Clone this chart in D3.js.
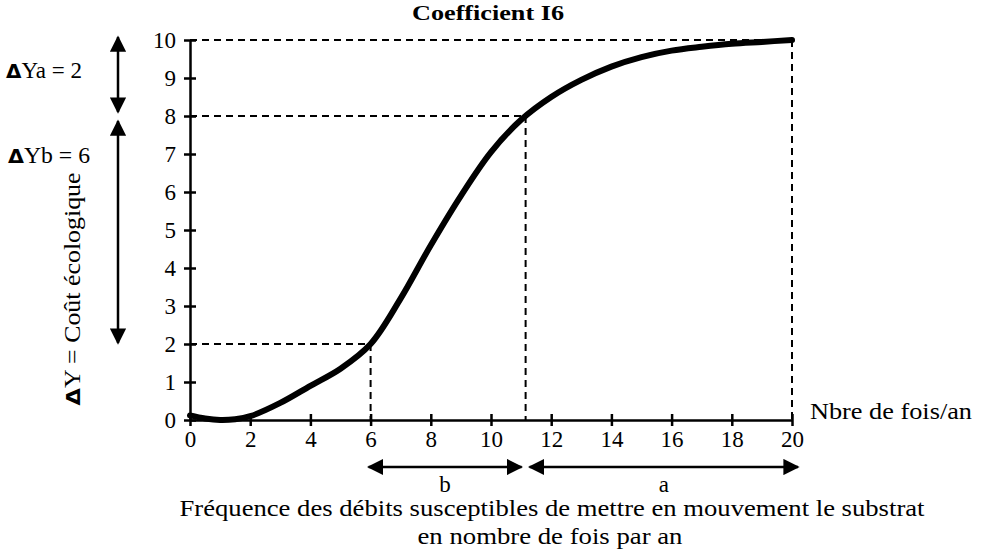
<!DOCTYPE html>
<html>
<head>
<meta charset="utf-8">
<script src="https://cdn.jsdelivr.net/npm/d3@7"></script>
<style>
  html, body { margin: 0; padding: 0; background: #fff; }
  svg text { font-family: "Liberation Serif", "DejaVu Serif", serif; fill: #000; }
</style>
</head>
<body>
<svg id="chart" width="982" height="552"></svg>
<script>
// Cost curve: ecological cost vs. frequency of substrate-moving flows
const freq = [0, 0.5, 1, 1.5, 2, 3, 4, 5, 6, 7, 8, 9, 10, 11, 12, 13, 14, 15, 16, 17, 18, 19, 20];
const cost = [0.12, 0.04, 0, 0.02, 0.1, 0.45, 0.9, 1.35, 2.0, 3.2, 4.6, 5.9, 7.05, 7.9, 8.5, 8.95, 9.3, 9.55, 9.72, 9.82, 9.9, 9.95, 10];
const xTicks = [0, 2, 4, 6, 8, 10, 12, 14, 16, 18, 20];
const yTicks = [0, 1, 2, 3, 4, 5, 6, 7, 8, 9, 10];
// Guide lines: frequency / cost pairs
const guideX = [6, 11.15, 20];
const guideY = [2, 8, 10];
// Ranges marked under the x axis and beside the y axis
const rangeNames = ["b", "a"];
const rangeFrom = [6, 11.15];
const rangeTo = [11.15, 20];
const deltaNames = ["ΔYa = 2", "ΔYb = 6"];
const deltaFrom = [10, 8];
const deltaTo = [8, 2];

const svg = d3.select("#chart");
const x = d3.scaleLinear().domain([0, 20]).range([190, 792]);
const y = d3.scaleLinear().domain([0, 10]).range([420, 40]);

// arrowhead markers
const defs = svg.append("defs");
defs.append("marker").attr("id", "head")
  .attr("viewBox", "0 0 10 10").attr("refX", 9).attr("refY", 5)
  .attr("markerWidth", 6.5).attr("markerHeight", 6.5).attr("markerUnits", "strokeWidth")
  .attr("orient", "auto-start-reverse")
  .append("path").attr("d", "M0,0 L10,5 L0,10 Z").attr("fill", "#000");

// dashed guides
const g = svg.append("g");
guideX.forEach((gx, i) => {
  g.append("line").attr("x1", x(0)).attr("x2", x(gx)).attr("y1", y(guideY[i])).attr("y2", y(guideY[i]))
    .attr("stroke", "#000").attr("stroke-width", 2).attr("stroke-dasharray", "7,5");
  g.append("line").attr("x1", x(gx)).attr("x2", x(gx)).attr("y1", y(guideY[i])).attr("y2", y(0))
    .attr("stroke", "#000").attr("stroke-width", 2).attr("stroke-dasharray", "7,5");
});

// axes
const xAxis = svg.append("g").attr("transform", `translate(0,${y(0)})`)
  .call(d3.axisBottom(x).tickValues(xTicks).tickSize(0).tickPadding(11));
xAxis.select(".domain").attr("stroke-width", 2.5);
xAxis.selectAll(".tick line").remove();
xAxis.selectAll(".tick").append("line").attr("y1", -6).attr("y2", 6).attr("stroke", "#000").attr("stroke-width", 2.5);
xAxis.selectAll("text").attr("font-size", 23).attr("font-family", "Liberation Serif").attr("dy", "0.71em");

const yAxis = svg.append("g").attr("transform", `translate(${x(0)},0)`)
  .call(d3.axisLeft(y).tickValues(yTicks).tickSize(0).tickPadding(14));
yAxis.select(".domain").attr("stroke-width", 2.5);
yAxis.selectAll(".tick line").remove();
yAxis.selectAll(".tick").append("line").attr("x1", -6).attr("x2", 6).attr("stroke", "#000").attr("stroke-width", 2.5);
yAxis.selectAll("text").attr("font-size", 23).attr("font-family", "Liberation Serif");
svg.selectAll(".domain").attr("stroke", "#000");

// curve
svg.append("path")
  .datum(freq.map((f, i) => [f, cost[i]]))
  .attr("fill", "none").attr("stroke", "#000").attr("stroke-width", 6).attr("stroke-linecap", "round")
  .attr("d", d3.line().x(d => x(d[0])).y(d => y(d[1])).curve(d3.curveCatmullRom));

// range arrows under the x axis
rangeNames.forEach((name, i) => {
  const x1 = x(rangeFrom[i]) + (i === 0 ? -2 : 4);
  const x2 = x(rangeTo[i]) + (i === 0 ? -4 : 6);
  svg.append("line").attr("x1", x1).attr("x2", x2).attr("y1", 467).attr("y2", 467)
    .attr("stroke", "#000").attr("stroke-width", 2.5)
    .attr("marker-start", "url(#head)").attr("marker-end", "url(#head)");
  svg.append("text").attr("x", (x1 + x2) / 2).attr("y", 492).attr("text-anchor", "middle")
    .attr("font-size", 23).text(name);
});

// delta arrows beside the y axis
deltaNames.forEach((name, i) => {
  const y1 = y(deltaFrom[i]) + (i === 0 ? -3 : 5);
  const y2 = y(deltaTo[i]) + (i === 0 ? -4 : -1);
  svg.append("line").attr("x1", 118).attr("x2", 118).attr("y1", y1).attr("y2", y2)
    .attr("stroke", "#000").attr("stroke-width", 2.5)
    .attr("marker-start", "url(#head)").attr("marker-end", "url(#head)");
  const t = svg.append("text").attr("x", i === 0 ? 6 : 8).attr("y", i === 0 ? 78 : 163).attr("font-size", 23)
    .attr("textLength", i === 0 ? 76 : 82).attr("lengthAdjust", "spacingAndGlyphs");
  t.append("tspan").attr("font-weight", "bold").attr("font-family", "DejaVu Sans").attr("font-size", 20).text("Δ");
  t.append("tspan").text(name.slice(1));
});

// y axis title
const yt = svg.append("text").attr("transform", "translate(80,289) rotate(-90)")
  .attr("text-anchor", "middle").attr("font-size", 23)
  .attr("textLength", 233).attr("lengthAdjust", "spacingAndGlyphs");
yt.append("tspan").attr("font-weight", "bold").attr("font-family", "DejaVu Sans").attr("font-size", 20).text("Δ");
yt.append("tspan").text("Y = Coût écologique");

// x axis unit
svg.append("text").attr("x", 810).attr("y", 419).attr("font-size", 23)
  .attr("textLength", 162).attr("lengthAdjust", "spacingAndGlyphs").text("Nbre de fois/an");

// x axis title
svg.append("text").attr("x", 552).attr("y", 516).attr("text-anchor", "middle").attr("font-size", 23)
  .attr("textLength", 745).attr("lengthAdjust", "spacingAndGlyphs")
  .text("Fréquence des débits susceptibles de mettre en mouvement le substrat");
svg.append("text").attr("x", 550).attr("y", 544).attr("text-anchor", "middle").attr("font-size", 23)
  .attr("textLength", 265).attr("lengthAdjust", "spacingAndGlyphs")
  .text("en nombre de fois par an");

// title
svg.append("text").attr("x", 488).attr("y", 20).attr("text-anchor", "middle").attr("font-size", 21)
  .attr("font-weight", "bold").attr("textLength", 152).attr("lengthAdjust", "spacingAndGlyphs")
  .text("Coefficient I6");
</script>
</body>
</html>
